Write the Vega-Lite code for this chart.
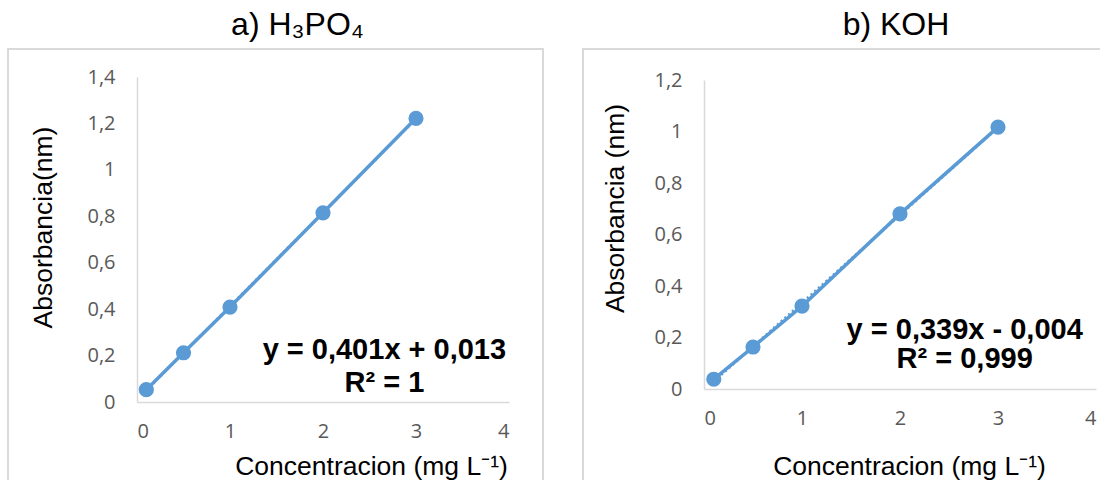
{
  "$schema": "https://vega.github.io/schema/vega-lite/v6.json",
  "background": "white",
  "padding": {"left": 7, "top": 8, "right": 0, "bottom": 0},
  "spacing": 38,
  "config": {
    "view": {"stroke": "#d9d9d9", "strokeWidth": 2},
    "axis": {
      "grid": false,
      "ticks": false,
      "tickSize": 0,
      "domainColor": "#d9d9d9",
      "domainWidth": 1.5,
      "labelFont": "Open Sans",
      "labelFontSize": 20,
      "labelColor": "#595959",
      "labelPadding": 22,
      "titleFont": "Liberation Sans",
      "titleFontSize": 26.5,
      "titleFontWeight": "normal",
      "titleColor": "#000000",
      "labelExpr": "replace(format(datum.value, '~r'), '.', ',')"
    },
    "title": {"font": "Liberation Sans", "fontSize": 32, "fontWeight": "normal", "color": "#000000", "baseline": "alphabetic", "offset": 7}
  },
  "datasets": {
    "h3po4": [
      {"conc": 0.1, "abs": 0.053},
      {"conc": 0.5, "abs": 0.212},
      {"conc": 1, "abs": 0.409},
      {"conc": 2, "abs": 0.815},
      {"conc": 3, "abs": 1.222}
    ],
    "koh": [
      {"conc": 0.1, "abs": 0.038},
      {"conc": 0.5, "abs": 0.163},
      {"conc": 1, "abs": 0.322},
      {"conc": 2, "abs": 0.68},
      {"conc": 3, "abs": 1.017}
    ]
  },
  "hconcat": [
    {
      "width": 535,
      "height": 434,
      "title": {"text": "a)  H₃PO₄", "anchor": "middle", "dx": 22},
      "data": {"name": "h3po4"},
      "layer": [
        {
          "transform": [{"regression": "abs", "on": "conc"}],
          "mark": {"type": "line", "color": "#5B9BD5", "strokeWidth": 2.5, "strokeDash": [2, 3]},
          "encoding": {
            "x": {"field": "conc", "type": "quantitative", "scale": {"domain": [0, 4], "range": [129, 501], "nice": false, "zero": false}},
            "y": {"field": "abs", "type": "quantitative", "scale": {"domain": [0, 1.4], "range": [353, 28], "nice": false, "zero": false}}
          }
        },
        {
          "mark": {"type": "line", "color": "#5B9BD5", "strokeWidth": 3.5, "point": {"filled": true, "size": 230, "color": "#5B9BD5", "opacity": 1}},
          "encoding": {
            "x": {
              "field": "conc", "type": "quantitative",
              "scale": {"domain": [0, 4], "range": [129, 501], "nice": false, "zero": false},
              "axis": {"values": [0, 1, 2, 3, 4], "offset": -81, "labelPadding": 19, "title": "Concentracion (mg L⁻¹)", "titleX": 363, "titleY": 72, "titleBaseline": "alphabetic", "titleAlign": "center", "titleAnchor": null}
            },
            "y": {
              "field": "abs", "type": "quantitative",
              "scale": {"domain": [0, 1.4], "range": [353, 28], "nice": false, "zero": false},
              "axis": {"values": [0, 0.2, 0.4, 0.6, 0.8, 1, 1.2, 1.4], "offset": -129, "title": "Absorbancia(nm)", "titleX": -86, "titleY": 178, "titleAngle": 270, "titleBaseline": "alphabetic", "titleAlign": "center"}
            }
          }
        },
        {
          "data": {"values": [{"eq": ["y = 0,401x + 0,013", "R² = 1"]}]},
          "mark": {"type": "text", "font": "Liberation Sans", "fontSize": 29, "fontWeight": "bold", "color": "#000000", "align": "center", "baseline": "middle", "lineHeight": 33},
          "encoding": {
            "x": {"datum": 2.66, "type": "quantitative"},
            "y": {"datum": 0.224, "type": "quantitative"},
            "text": {"field": "eq"}
          }
        }
      ]
    },
    {
      "width": 520,
      "height": 434,
      "title": {"text": "b) KOH", "anchor": "middle", "dx": 53},
      "data": {"name": "koh"},
      "layer": [
        {
          "transform": [{"regression": "abs", "on": "conc"}],
          "mark": {"type": "line", "color": "#5B9BD5", "strokeWidth": 2.5, "strokeDash": [2, 3]},
          "encoding": {
            "x": {"field": "conc", "type": "quantitative", "scale": {"domain": [0, 4], "range": [121, 513], "nice": false, "zero": false}},
            "y": {"field": "abs", "type": "quantitative", "scale": {"domain": [0, 1.2], "range": [340, 31], "nice": false, "zero": false}}
          }
        },
        {
          "mark": {"type": "line", "color": "#5B9BD5", "strokeWidth": 3.5, "point": {"filled": true, "size": 230, "color": "#5B9BD5", "opacity": 1}},
          "encoding": {
            "x": {
              "field": "conc", "type": "quantitative",
              "scale": {"domain": [0, 4], "range": [121, 513], "nice": false, "zero": false},
              "axis": {"values": [0, 1, 2, 3, 4], "offset": -94, "labelPadding": 19, "title": "Concentracion (mg L⁻¹)", "titleX": 326, "titleY": 85, "titleBaseline": "alphabetic", "titleAlign": "center", "titleAnchor": null}
            },
            "y": {
              "field": "abs", "type": "quantitative",
              "scale": {"domain": [0, 1.2], "range": [340, 31], "nice": false, "zero": false},
              "axis": {"values": [0, 0.2, 0.4, 0.6, 0.8, 1, 1.2], "offset": -121, "title": "Absorbancia (nm)", "titleX": -81, "titleY": 159, "titleAngle": 270, "titleBaseline": "alphabetic", "titleAlign": "center"}
            }
          }
        },
        {
          "data": {"values": [{"eq": ["y = 0,339x - 0,004", "R² = 0,999"]}]},
          "mark": {"type": "text", "font": "Liberation Sans", "fontSize": 29, "fontWeight": "bold", "color": "#000000", "align": "center", "baseline": "middle", "lineHeight": 29},
          "encoding": {
            "x": {"datum": 2.66, "type": "quantitative"},
            "y": {"datum": 0.229, "type": "quantitative"},
            "text": {"field": "eq"}
          }
        }
      ]
    }
  ]
}
